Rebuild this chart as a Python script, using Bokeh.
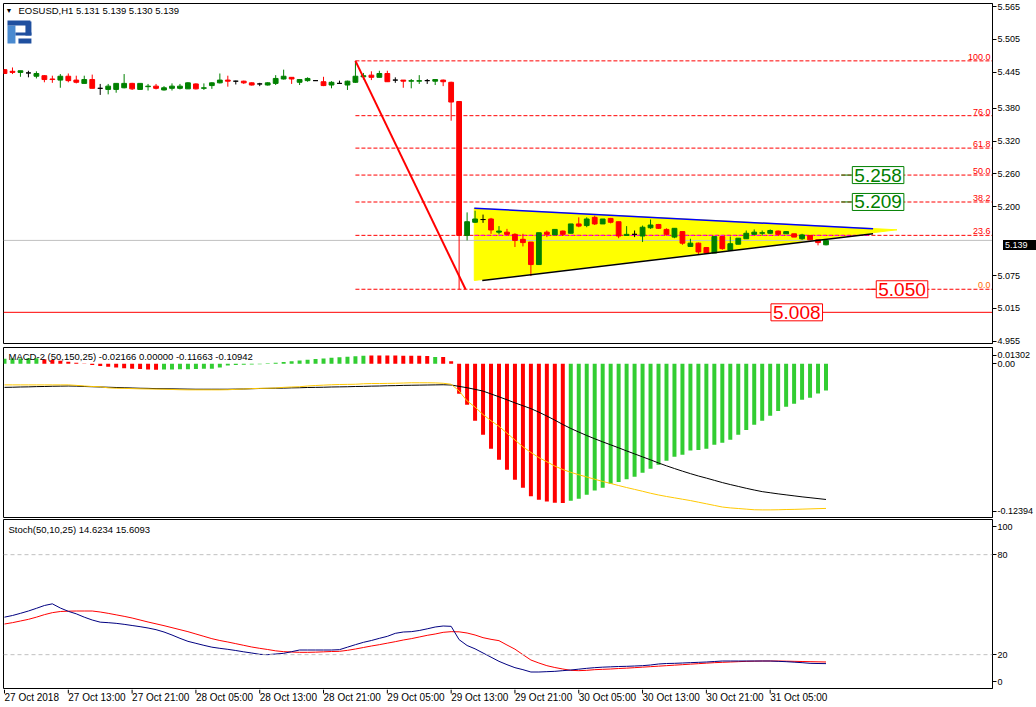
from bokeh.plotting import figure
from bokeh.layouts import column
from bokeh.models import ColumnDataSource, Range1d, FixedTicker, Label, Span, Div
from bokeh.embed import file_html
from bokeh.resources import INLINE
from bokeh.core.properties import value

FONT = "Liberation Sans"

# ---------------- data ----------------
opens = [5.450, 5.447, 5.445, 5.444, 5.438, 5.439, 5.433, 5.431, 5.438, 5.431,
         5.425, 5.432, 5.416, 5.414, 5.414, 5.417, 5.425, 5.414, 5.419, 5.420,
         5.413, 5.416, 5.416, 5.415, 5.424, 5.416, 5.421, 5.426, 5.431, 5.429,
         5.429, 5.426, 5.424, 5.422, 5.425, 5.433, 5.436, 5.427, 5.430, 5.430,
         5.428, 5.422, 5.425, 5.422, 5.427, 5.437, 5.440, 5.436, 5.443, 5.431,
         5.431, 5.429, 5.429, 5.430, 5.429, 5.431, 5.427, 5.392, 5.148, 5.172,
         5.177, 5.178, 5.154, 5.154, 5.150, 5.141, 5.136, 5.095, 5.154, 5.149,
         5.156, 5.152, 5.169, 5.166, 5.181, 5.169, 5.179, 5.173, 5.148, 5.150,
         5.147, 5.162, 5.168, 5.159, 5.145, 5.155, 5.128, 5.134, 5.126, 5.116,
         5.146, 5.121, 5.132, 5.142, 5.150, 5.152, 5.152, 5.156, 5.151, 5.151,
         5.142, 5.148, 5.140, 5.131]
highs = [5.451, 5.454, 5.448, 5.448, 5.447, 5.440, 5.439, 5.442, 5.443, 5.439,
         5.439, 5.441, 5.424, 5.424, 5.425, 5.442, 5.426, 5.425, 5.424, 5.424,
         5.420, 5.425, 5.424, 5.427, 5.425, 5.425, 5.427, 5.443, 5.439, 5.430,
         5.430, 5.427, 5.426, 5.427, 5.440, 5.450, 5.436, 5.433, 5.436, 5.431,
         5.437, 5.429, 5.430, 5.430, 5.466, 5.444, 5.447, 5.448, 5.448, 5.436,
         5.431, 5.433, 5.440, 5.433, 5.432, 5.432, 5.428, 5.392, 5.190, 5.193,
         5.186, 5.180, 5.165, 5.160, 5.152, 5.151, 5.136, 5.153, 5.157, 5.159,
         5.157, 5.169, 5.181, 5.181, 5.184, 5.178, 5.180, 5.173, 5.165, 5.157,
         5.166, 5.177, 5.169, 5.161, 5.161, 5.155, 5.142, 5.135, 5.127, 5.146,
         5.146, 5.146, 5.143, 5.157, 5.159, 5.157, 5.159, 5.157, 5.156, 5.151,
         5.151, 5.148, 5.140, 5.139]
lows = [5.442, 5.442, 5.437, 5.436, 5.434, 5.427, 5.426, 5.417, 5.427, 5.425,
        5.425, 5.416, 5.404, 5.405, 5.408, 5.416, 5.413, 5.414, 5.412, 5.414,
        5.412, 5.412, 5.414, 5.415, 5.414, 5.413, 5.415, 5.425, 5.419, 5.423,
        5.424, 5.421, 5.420, 5.421, 5.422, 5.432, 5.424, 5.422, 5.428, 5.430,
        5.420, 5.416, 5.424, 5.413, 5.426, 5.432, 5.431, 5.436, 5.428, 5.426,
        5.417, 5.416, 5.424, 5.424, 5.422, 5.420, 5.357, 5.050, 5.139, 5.171,
        5.171, 5.151, 5.150, 5.148, 5.127, 5.128, 5.074, 5.095, 5.145, 5.149,
        5.147, 5.152, 5.163, 5.163, 5.167, 5.169, 5.170, 5.143, 5.147, 5.145,
        5.136, 5.160, 5.160, 5.148, 5.143, 5.131, 5.127, 5.113, 5.115, 5.116,
        5.122, 5.120, 5.132, 5.142, 5.149, 5.148, 5.151, 5.148, 5.151, 5.145,
        5.140, 5.140, 5.130, 5.130]
closes = [5.443, 5.445, 5.448, 5.444, 5.443, 5.432, 5.432, 5.438, 5.430, 5.427,
          5.432, 5.416, 5.416, 5.420, 5.425, 5.425, 5.415, 5.425, 5.420, 5.416,
          5.417, 5.420, 5.420, 5.426, 5.415, 5.417, 5.426, 5.431, 5.429, 5.429,
          5.426, 5.422, 5.424, 5.426, 5.434, 5.438, 5.433, 5.432, 5.434, 5.430,
          5.421, 5.427, 5.425, 5.429, 5.438, 5.439, 5.436, 5.443, 5.428, 5.431,
          5.429, 5.430, 5.430, 5.430, 5.432, 5.428, 5.391, 5.148, 5.173, 5.178,
          5.177, 5.158, 5.156, 5.150, 5.139, 5.135, 5.095, 5.153, 5.150, 5.159,
          5.150, 5.169, 5.165, 5.178, 5.169, 5.178, 5.172, 5.147, 5.150, 5.150,
          5.163, 5.167, 5.161, 5.150, 5.161, 5.134, 5.134, 5.118, 5.116, 5.146,
          5.124, 5.133, 5.143, 5.152, 5.154, 5.153, 5.157, 5.150, 5.155, 5.145,
          5.149, 5.140, 5.135, 5.139]

macd_hist = [0.0040, 0.0041, 0.0042, 0.0043, 0.0044, 0.0036, 0.0030, 0.0024, 0.0016, 0.0008,
             0.0002, -0.0010, -0.0018, -0.0025, -0.0031, -0.0036, -0.0040, -0.0044, -0.0047, -0.0050,
             -0.0048, -0.0047, -0.0046, -0.0045, -0.0044, -0.0042, -0.0040, -0.0030, -0.0014, -0.0010,
             -0.0008, -0.0006, -0.0004, 0.0003, 0.0008, 0.0014, 0.0020, 0.0026, 0.0032, 0.0037,
             0.0042, 0.0047, 0.0052, 0.0056, 0.0060, 0.0064, 0.0066, 0.0066, 0.0065, 0.0065,
             0.0064, 0.0064, 0.0063, 0.0062, 0.0054, 0.0054, 0.0019, -0.0242, -0.0331, -0.0459,
             -0.0572, -0.0685, -0.0774, -0.0854, -0.0935, -0.1000, -0.1069, -0.1096, -0.1110, -0.1120,
             -0.1123, -0.1104, -0.1088, -0.1056, -0.1021, -0.1000, -0.0967, -0.0954, -0.0932, -0.0911,
             -0.0879, -0.0846, -0.0814, -0.0782, -0.0750, -0.0734, -0.0699, -0.0696, -0.0685, -0.0653,
             -0.0637, -0.0613, -0.0572, -0.0535, -0.0492, -0.0459, -0.0419, -0.0382, -0.0347, -0.0322,
             -0.0290, -0.0274, -0.0240, -0.02166]
hist_colour_flags = ("GGGGGRRRRRRRRRRRRRRRGGGGGGGGGGGGGGGGGGGGGGGGGGRRRRRRRRGRR"
                     "RRRRRRRRRRRRRRGGGGGGGGGGGGGGGGGGGGGGGGGGGGGGGGG")
macd_main = [-0.0191, -0.0190, -0.0188, -0.0187, -0.0185, -0.0184, -0.0182, -0.0181, -0.0180, -0.0181,
             -0.0184, -0.0186, -0.0188, -0.0190, -0.0192, -0.0194, -0.0196, -0.0198, -0.0199, -0.0201,
             -0.0202, -0.0203, -0.0204, -0.0205, -0.0206, -0.0206, -0.0206, -0.0206, -0.0206, -0.0205,
             -0.0204, -0.0202, -0.0200, -0.0199, -0.0198, -0.0197, -0.0195, -0.0194, -0.0192, -0.0191,
             -0.0190, -0.0188, -0.0187, -0.0186, -0.0184, -0.0183, -0.0181, -0.0180, -0.0178, -0.0177,
             -0.0175, -0.0174, -0.0173, -0.0172, -0.0171, -0.0170, -0.0172, -0.0183, -0.0194, -0.0207,
             -0.0221, -0.0244, -0.0267, -0.0291, -0.0316, -0.0339, -0.0362, -0.0391, -0.0422, -0.0455,
             -0.0490, -0.0522, -0.0551, -0.0579, -0.0605, -0.0630, -0.0654, -0.0678, -0.0703, -0.0727,
             -0.0751, -0.0775, -0.0800, -0.0823, -0.0845, -0.0866, -0.0886, -0.0905, -0.0922, -0.0940,
             -0.0958, -0.0974, -0.0989, -0.1004, -0.1018, -0.1031, -0.1040, -0.1049, -0.1057, -0.1065,
             -0.1073, -0.1080, -0.1087, -0.10942]
macd_signal = [-0.0171, -0.0171, -0.0171, -0.0171, -0.0171, -0.0171, -0.0171, -0.0171, -0.0171, -0.0175,
               -0.0180, -0.0184, -0.0186, -0.0195, -0.0198, -0.0199, -0.0201, -0.0203, -0.0204, -0.0205,
               -0.0206, -0.0208, -0.0210, -0.0211, -0.0211, -0.0211, -0.0211, -0.0211, -0.0210, -0.0207,
               -0.0204, -0.0201, -0.0199, -0.0198, -0.0196, -0.0191, -0.0188, -0.0186, -0.0180, -0.0176,
               -0.0173, -0.0170, -0.0168, -0.0167, -0.0166, -0.0162, -0.0160, -0.0160, -0.0159, -0.0158,
               -0.0156, -0.0154, -0.0154, -0.0154, -0.0155, -0.0158, -0.0166, -0.0220, -0.0300, -0.0350,
               -0.0410, -0.0460, -0.0505, -0.0560, -0.0615, -0.0670, -0.0715, -0.0757, -0.0790, -0.0825,
               -0.0853, -0.0875, -0.0895, -0.0913, -0.0931, -0.0949, -0.0965, -0.0982, -0.0998, -0.1013,
               -0.1028, -0.1044, -0.1058, -0.1070, -0.1081, -0.1092, -0.1103, -0.1116, -0.1129, -0.1142,
               -0.1155, -0.1162, -0.1167, -0.1172, -0.1177, -0.1178, -0.1178, -0.1177, -0.1175, -0.1174,
               -0.1172, -0.1170, -0.1168, -0.11663]

stoch_main = [42.5, 43.5, 44.8, 46.2, 47.8, 49.5, 50.5, 48.0, 46.0, 44.5,
              42.5, 40.8, 39.5, 39.2, 38.8, 38.2, 37.5, 36.8, 36.0, 35.0,
              33.6, 31.8, 29.8, 28.0, 26.8, 25.6, 24.5, 23.8, 23.2, 22.5,
              21.7, 21.0, 20.2, 20.0, 20.4, 20.8, 21.8, 22.8, 22.8, 22.8,
              22.8, 22.8, 23.0, 24.5, 26.0, 27.4, 28.5, 29.8, 31.0, 32.8,
              33.6, 33.8, 34.5, 35.5, 36.6, 37.2, 37.0, 29.0, 25.5, 23.5,
              21.0, 18.5, 16.0, 14.0, 12.2, 11.0, 9.6, 9.6, 9.8, 10.0,
              10.4, 10.8, 11.3, 11.8, 12.2, 12.5, 12.7, 12.9, 13.0, 13.2,
              13.4, 13.8, 14.4, 14.7, 14.8, 15.0, 15.2, 15.4, 15.6, 15.9,
              16.2, 16.2, 16.2, 16.2, 16.2, 16.2, 16.2, 16.0, 15.8, 15.5,
              15.2, 14.8, 14.7, 14.6234]
stoch_signal = [38.4, 39.2, 40.2, 41.2, 42.5, 44.0, 45.2, 45.9, 46.1, 46.2,
                46.2, 46.2, 45.6, 44.8, 43.9, 43.0, 42.0, 40.8, 39.6, 38.5,
                37.4, 36.2, 35.0, 33.8, 32.4, 31.0, 29.6, 28.5, 27.6, 26.6,
                25.6, 24.6, 23.8, 23.1, 22.3, 21.8, 21.6, 21.4, 21.4, 21.5,
                21.7, 21.9, 22.0, 22.6, 23.4, 24.3, 25.2, 26.0, 26.9, 27.8,
                28.8, 29.6, 30.6, 31.6, 32.4, 33.4, 33.8, 33.7, 33.0, 31.8,
                30.2, 29.2, 28.4, 25.8, 23.3, 20.0, 16.8, 15.0, 13.4, 12.3,
                11.4, 10.6, 10.4, 10.6, 11.0, 11.2, 11.4, 11.7, 11.9, 12.2,
                12.5, 12.8, 13.1, 13.4, 13.7, 14.0, 14.3, 14.6, 14.9, 15.2,
                15.4, 15.6, 15.8, 16.0, 16.1, 16.2, 16.2, 16.2, 16.1, 16.0,
                15.9, 15.8, 15.7, 15.6093]

time_tick_bars = [0, 8, 16, 24, 32, 40, 48, 56, 64, 72, 80, 88, 96]
time_tick_labels = ["27 Oct 2018", "27 Oct 13:00", "27 Oct 21:00", "28 Oct 05:00", "28 Oct 13:00",
                    "28 Oct 21:00", "29 Oct 05:00", "29 Oct 13:00", "29 Oct 21:00", "30 Oct 05:00",
                    "30 Oct 13:00", "30 Oct 21:00", "31 Oct 05:00"]
price_ticks = [5.565, 5.505, 5.445, 5.380, 5.320, 5.260, 5.200, 5.075, 5.015, 4.955]
price_tick_labels = ["5.565", "5.505", "5.445", "5.380", "5.320", "5.260", "5.200", "5.075", "5.015", "4.955"]
macd_tick_pos = [0.0068, 0.0, -0.1191]
macd_tick_labels = ["0.01302", "0.00", "-0.12394"]
stoch_tick_pos = [96.7, 80, 20, 3.9]
stoch_tick_labels = ["100", "80", "20", "0"]
stoch_levels = [80, 20]

# chart objects
fib_high, fib_low = 5.466, 5.050
fib_start_bar, fib_end_bar = 44, 57.8
fib_ratios = [0.0, 23.6, 38.2, 50.0, 61.8, 76.0, 100.0]
last_price = 5.139
support_line = 5.008
tri_x = [58.9, 58.9, 111.9]
tri_y = [5.1977, 5.0660, 5.1583]
upper_tl_x, upper_tl_y = [58.9, 108.9], [5.1977, 5.1601]
lower_tl_x, lower_tl_y = [59.9, 108.9], [5.0660, 5.1510]
price_boxes = [("5.258", 5.258, 106.3, 104.9, "#008000"),
               ("5.209", 5.209, 106.3, 104.9, "#008000"),
               ("5.050", 5.050, 109.3, 108.2, "#ff0000"),
               ("5.008", 5.008, 96.1, 96.1, "#ff0000")]

# ---------------- layout ----------------
X_START, X_END = -0.125, 123.875
PRICE_MIN, PRICE_MAX = 4.9512, 5.5705
MACD_MIN, MACD_MAX = -0.12394, 0.01302
STOCH_MIN, STOCH_MAX = -0.3, 101.1
W = 1036
BL, BR = 3, 41
FRAME_W = W - BL - BR
MAIN_TOP = 3
MAIN_FRAME_H = 340

xr = Range1d(X_START, X_END)


def make_fig(height, yr, top, bottom, ticks, labels):
    p = figure(width=W, height=height, x_range=xr, y_range=yr,
               output_backend="svg", toolbar_location=None,
               x_axis_location=None, y_axis_location="right",
               min_border_left=BL, min_border_right=BR,
               min_border_top=top, min_border_bottom=bottom,
               background_fill_color="white", border_fill_color="white")
    p.xgrid.visible = False
    p.ygrid.visible = False
    p.outline_line_color = "black"
    p.outline_line_width = 1
    p.outline_line_alpha = 1
    ya = p.yaxis[0]
    ya.ticker = FixedTicker(ticks=ticks)
    ya.major_label_overrides = {t: l for t, l in zip(ticks, labels)}
    ya.major_tick_out = 4
    ya.major_tick_in = 0
    ya.minor_tick_out = 0
    ya.minor_tick_in = 0
    ya.major_label_standoff = 1
    ya.major_label_text_font = FONT
    ya.major_label_text_font_size = "9px"
    ya.major_label_text_color = "black"
    ya.axis_line_color = "black"
    ya.major_tick_line_color = "black"
    return p


# ---------------- main price panel ----------------
p1 = make_fig(MAIN_TOP + MAIN_FRAME_H + 4, Range1d(PRICE_MIN, PRICE_MAX), MAIN_TOP, 4,
              price_ticks, price_tick_labels)

bars = list(range(len(opens)))
cols = ["#008000" if c > o else ("#ff0000" if c < o else "black") for o, c in zip(opens, closes)]
src = ColumnDataSource(dict(x=bars, o=opens, h=highs, l=lows, c=closes,
                            top=[max(o, c) for o, c in zip(opens, closes)],
                            bot=[min(o, c) for o, c in zip(opens, closes)], col=cols))

# yellow triangle (background)
p1.patch(tri_x, tri_y, fill_color="#ffff00", line_color="#ffff00", line_width=1)

# fibonacci levels
fib_prices = [fib_low + r / 100.0 * (fib_high - fib_low) for r in fib_ratios]
p1.segment(x0=[fib_start_bar] * len(fib_prices), y0=fib_prices,
           x1=[X_END] * len(fib_prices), y1=fib_prices,
           line_color="#ff0000", line_dash="4 2", line_width=1)
# 23.6 level drawn over the triangle (appears magenta)
p1.segment(x0=[tri_x[0]], y0=[fib_prices[1]], x1=[108.5], y1=[fib_prices[1]],
           line_color="#ff00ff", line_dash="4 2", line_width=1)
fib_text_colors = ["#ff6a00"] + ["#ff0000"] * (len(fib_ratios) - 1)
p1.text(x=[X_END] * len(fib_prices), y=fib_prices, text=["%.1f" % r for r in fib_ratios],
        text_align="right", text_baseline="bottom", x_offset=-2, y_offset=-1,
        text_font=value(FONT), text_font_size="9px", text_color=fib_text_colors)

# current price and support lines
p1.segment(x0=[X_START], y0=[last_price], x1=[X_END], y1=[last_price], line_color="#c0c0c0", line_width=1)
p1.segment(x0=[X_START], y0=[support_line], x1=[X_END], y1=[support_line], line_color="#ff0000", line_width=1)

# candles
p1.segment(x0="x", y0="l", x1="x", y1="h", line_color="col", line_width=1, source=src)
p1.vbar(x="x", width=0.6, top="top", bottom="bot", fill_color="col", line_color="col", line_width=1, source=src)

# triangle trend lines
p1.line(upper_tl_x, upper_tl_y, line_color="#0000ff", line_width=1.5)
p1.line(lower_tl_x, lower_tl_y, line_color="black", line_width=1.5)

# fibonacci trend line
p1.line([fib_start_bar, fib_end_bar], [fib_high, fib_low], line_color="#ff0000", line_width=2)

# price label boxes
for txt, lvl, bx, stub_x, colr in price_boxes:
    if stub_x < bx:
        p1.segment(x0=[stub_x], y0=[lvl], x1=[bx], y1=[lvl], line_color=colr, line_width=1)
    p1.add_layout(Label(x=bx, y=lvl, text=txt, text_align="left", text_baseline="middle",
                        text_font=FONT, text_font_size="19px", text_color=colr,
                        border_line_color=colr, border_line_width=1,
                        background_fill_color="white", padding=2))

# header
p1.add_layout(Label(x=X_START, y=PRICE_MAX, x_offset=2, y_offset=-7, text="\u25bc",
                    text_baseline="middle", text_font=FONT, text_font_size="7px", text_color="black"))
p1.add_layout(Label(x=X_START, y=PRICE_MAX, x_offset=15, y_offset=-7,
                    text="EOSUSD,H1  5.131 5.139 5.130 5.139",
                    text_baseline="middle", text_font=FONT, text_font_size="9.5px", text_color="black"))


# logo (decoration) in frame pixel units
def fx(px):
    return X_START + px * (X_END - X_START) / FRAME_W


def fy(py):
    return PRICE_MAX - py * (PRICE_MAX - PRICE_MIN) / MAIN_FRAME_H


logo_parts = [((4, 12), (22, 40), "#4a8ad0"), ((4, 27), (17, 22), "#1f4f9f"),
              ((22, 28), (18, 32), "#1f4f9f"), ((12, 28), (29, 32), "#1f4f9f"),
              ((15, 28), (35, 40), "#1f4f9f")]
for (x0, x1), (y0, y1), colr in logo_parts:
    p1.quad(left=[fx(x0)], right=[fx(x1)], top=[fy(y0)], bottom=[fy(y1)],
            fill_color=colr, line_color=None)

# ---------------- MACD panel ----------------
p2 = make_fig(171, Range1d(MACD_MIN, MACD_MAX), 0, 1, macd_tick_pos, macd_tick_labels)
hist_cols = ["#32cd32" if f == "G" else "#ff0000" for f in hist_colour_flags]
p2.vbar(x=bars, width=0.5, top=macd_hist, bottom=0, fill_color=hist_cols, line_color=None)
p2.line(bars, macd_main, line_color="black", line_width=1)
p2.line(bars, macd_signal, line_color="#ffc800", line_width=1)
p2.add_layout(Label(x=X_START, y=MACD_MAX, x_offset=5, y_offset=-9,
                    text="MACD-2 (50,150,25) -0.02166 0.00000 -0.11663 -0.10942",
                    text_baseline="middle", text_font=FONT, text_font_size="9.5px", text_color="black"))

# ---------------- Stochastic panel ----------------
p3 = make_fig(171, Range1d(STOCH_MIN, STOCH_MAX), 1, 1, stoch_tick_pos, stoch_tick_labels)
for lv in stoch_levels:
    p3.add_layout(Span(location=lv, dimension="width", line_color="#c0c0c0", line_dash="4 3", line_width=1))
p3.line(bars, stoch_signal, line_color="#ff0000", line_width=1)
p3.line(bars, stoch_main, line_color="#000080", line_width=1)
p3.add_layout(Label(x=X_START, y=STOCH_MAX, x_offset=5, y_offset=-10,
                    text="Stoch(50,10,25) 14.6234 15.6093",
                    text_baseline="middle", text_font=FONT, text_font_size="9.5px", text_color="black"))

# ---------------- time scale strip (ticks + left-aligned labels) ----------------
TS_H = 17
p4 = figure(width=W, height=TS_H, x_range=xr, y_range=Range1d(0, TS_H),
            output_backend="svg", toolbar_location=None,
            x_axis_location=None, y_axis_location=None,
            min_border_left=BL, min_border_right=BR, min_border_top=0, min_border_bottom=0,
            background_fill_color="white", border_fill_color="white")
p4.xgrid.visible = False
p4.ygrid.visible = False
p4.outline_line_color = None
p4.segment(x0=time_tick_bars, y0=[TS_H] * len(time_tick_bars), x1=time_tick_bars,
           y1=[TS_H - 4] * len(time_tick_bars), line_color="black", line_width=1)
p4.text(x=time_tick_bars, y=[TS_H - 2] * len(time_tick_bars), text=time_tick_labels,
        text_align="left", text_baseline="top", x_offset=0,
        text_font=value(FONT), text_font_size="10px", text_color="black")

# current-price tag on the price scale (HTML overlay, position from the price scale)
tag_top = MAIN_TOP + (PRICE_MAX - last_price) / (PRICE_MAX - PRICE_MIN) * MAIN_FRAME_H - 5
tag = Div(text="5.139", width=38, height=10,
          styles={"position": "absolute", "left": "%dpx" % (BL + FRAME_W + 3),
                  "top": "%dpx" % round(tag_top), "background-color": "black",
                  "color": "white", "font-family": FONT, "font-size": "9px",
                  "line-height": "10px", "padding-left": "2px", "z-index": "10",
                  "overflow": "hidden"})

layout = column(p1, p2, p3, p4, tag, spacing=0)
open("out.html", "w").write(file_html(layout, INLINE))
